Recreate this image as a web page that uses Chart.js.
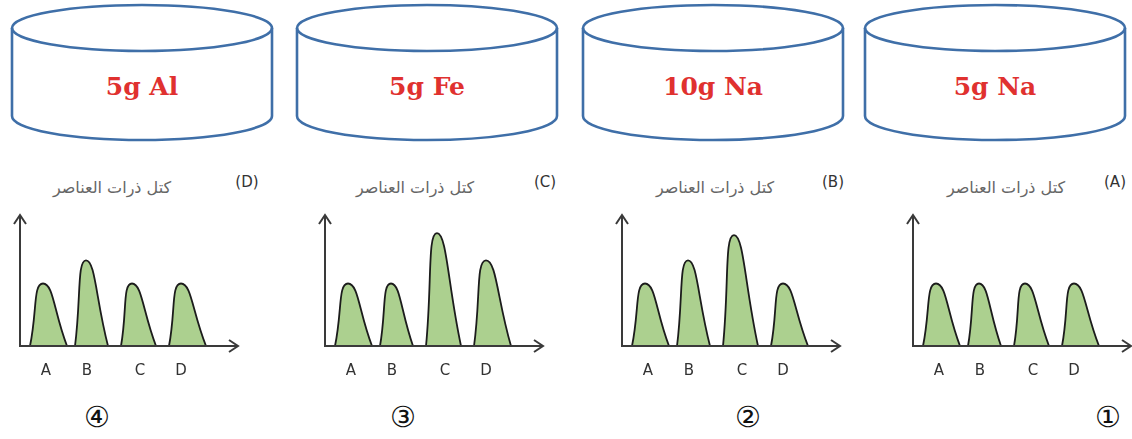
<!DOCTYPE html>
<html>
<head>
<meta charset="utf-8">
<script src="https://cdn.jsdelivr.net/npm/chart.js@4.4.1/dist/chart.umd.min.js"></script>
<style>
  html, body { margin: 0; padding: 0; background: #fff; }
  body { width: 1132px; height: 439px; position: relative; overflow: hidden; }
  svg.dishes { position: absolute; left: 0; top: 0; }
  .sample { position: absolute; top: 72px; width: 200px; margin-left: -100px; text-align: center;
    font-family: "DejaVu Serif", serif; font-weight: bold; font-size: 25px; color: #e0312f; }
  .title { position: absolute; top: 178px; width: 200px; margin-left: -100px; text-align: center;
    font-family: "DejaVu Sans", sans-serif; font-size: 16px; color: #666; direction: rtl; }
  .tag { position: absolute; top: 173px; width: 40px; margin-left: -20px; text-align: center;
    font-family: "DejaVu Sans", sans-serif; font-size: 15px; color: #333; }
  .num { position: absolute; top: 400px; width: 40px; margin-left: -20px; text-align: center;
    font-family: "DejaVu Sans", sans-serif; font-size: 29px; color: #111; }
  canvas { position: absolute; top: 205px; }
</style>
</head>
<body>
<svg class="dishes" width="1132" height="160"></svg>
<script>
// panels read right to left: (A) 5g Na, (B) 10g Na, (C) 5g Fe, (D) 5g Al
const panelTags = ["(A)", "(B)", "(C)", "(D)"];
const circled = ["①", "②", "③", "④"];
const samples = ["5g Na", "10g Na", "5g Fe", "5g Al"];
const elements = ["A", "B", "C", "D"];
const title = "كتل ذرات العناصر";

// peak heights of each element in each panel
const heightsA = [62, 62, 62, 62];
const heightsB = [62, 85, 110, 62];
const heightsC = [62, 62, 112, 85];
const heightsD = [62, 85, 62, 62];
const allHeights = [heightsA, heightsB, heightsC, heightsD];

// bump start / peak / end along the x axis, and tick label positions
const startPos = [10, 55, 101, 149];
const peakPos = [23, 66, 112, 161];
const endPos = [47, 88, 136, 186];
const labelPos = [26, 67, 120, 161];
const xMax = 218;
const yMax = 130;

// layout (pixels)
const axisLeft = [913, 622, 325, 20];
const dishLeft = [865, 583, 297, 12];
const dishWidth = 260;
const titleX = [1006, 715, 415, 112];
const tagX = [1115, 833, 545, 247];
const numX = [1108, 748, 403, 97];

const svg = document.querySelector("svg.dishes");
let paths = "";
dishLeft.forEach((x0) => {
  const x1 = x0 + dishWidth, rx = dishWidth / 2, cx = x0 + rx;
  paths += `<ellipse cx="${cx}" cy="28" rx="${rx}" ry="23"/>`;
  paths += `<path d="M${x0} 28 L${x0} 116 A${rx} 24 0 0 0 ${x1} 116 L${x1} 28"/>`;
});
svg.innerHTML = `<g fill="none" stroke="#3f6fa8" stroke-width="2.6">${paths}</g>`;

const add = (cls, x, text) => {
  const d = document.createElement("div");
  d.className = cls;
  d.style.left = x + "px";
  d.textContent = text;
  document.body.appendChild(d);
};

const arrowAxes = {
  id: "arrowAxes",
  afterDatasetsDraw(chart) {
    const { ctx, chartArea } = chart;
    const { left, right, top, bottom } = chartArea;
    ctx.save();
    ctx.strokeStyle = "#3a3a3a";
    ctx.lineWidth = 2;
    ctx.beginPath();
    ctx.moveTo(left, top);
    ctx.lineTo(left, bottom);
    ctx.lineTo(right, bottom);
    ctx.moveTo(left - 6, top + 9);
    ctx.lineTo(left, top);
    ctx.lineTo(left + 6, top + 9);
    ctx.moveTo(right - 9, bottom - 6);
    ctx.lineTo(right, bottom);
    ctx.lineTo(right - 9, bottom + 6);
    ctx.stroke();
    ctx.restore();
  },
};

const makeGraph = (i) => {
  const canvas = document.createElement("canvas");
  canvas.width = xMax + 16;
  canvas.height = 189;
  canvas.style.left = axisLeft[i] - 8 + "px";
  document.body.appendChild(canvas);

  const datasets = elements.map((el, k) => ({
    label: el,
    data: [
      { x: startPos[k], y: 0 },
      { x: peakPos[k], y: allHeights[i][k] },
      { x: endPos[k], y: 0 },
    ],
    backgroundColor: "#acd08f",
    borderColor: "#1c1c1c",
    borderWidth: 1.8,
    fill: "origin",
    tension: 0.55,
    pointRadius: 0,
  }));

  return new Chart(canvas, {
    type: "line",
    data: { datasets },
    options: {
      responsive: false,
      animation: false,
      events: [],
      layout: { padding: { top: 10, left: 8, right: 8, bottom: 6 } },
      plugins: { legend: { display: false }, tooltip: { enabled: false } },
      scales: {
        x: {
          type: "linear",
          min: 0,
          max: xMax,
          grid: { display: false },
          border: { display: false },
          afterBuildTicks: (scale) => {
            scale.ticks = labelPos.map((v) => ({ value: v }));
          },
          ticks: {
            autoSkip: false,
            maxRotation: 0,
            padding: 8,
            color: "#333",
            font: { family: "DejaVu Sans", size: 15 },
            callback: (v) => elements[labelPos.indexOf(v)],
          },
        },
        y: { display: false, min: 0, max: yMax },
      },
    },
    plugins: [arrowAxes],
  });
};

for (let i = 0; i < 4; i++) {
  add("sample", dishLeft[i] + dishWidth / 2, samples[i]);
  add("title", titleX[i], title);
  add("tag", tagX[i], panelTags[i]);
  add("num", numX[i], circled[i]);
  makeGraph(i);
}
</script>
</body>
</html>
